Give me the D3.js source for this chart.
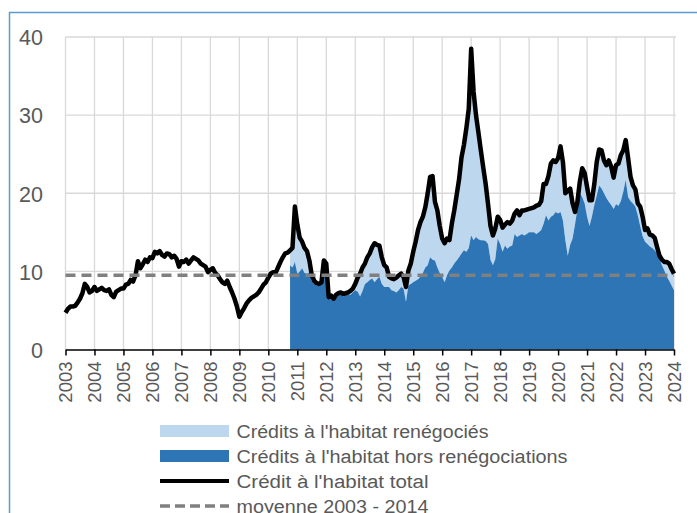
<!DOCTYPE html>
<html>
<head>
<meta charset="utf-8">
<script src="https://cdn.jsdelivr.net/npm/d3@7"></script>
<style>
  body { margin: 0; background: #fff; }
  svg { display: block; font-family: "Liberation Sans", Arial, sans-serif; }
</style>
</head>
<body>
<svg id="chart" width="697" height="513"></svg>
<script>
  // monthly series, Jan 2003 .. Jan 2024 (%)
  const firstYear = 2003;
  const lastYear = 2024;

  const totalCredit = [
    4.7, 5.2, 5.5, 5.5, 5.6, 6.0, 6.5, 7.2, 8.4, 8.0, 7.3, 7.5,        // 2003
    8.0, 7.5, 7.7, 7.9, 7.6, 7.5, 7.7, 7.0, 6.7, 7.4, 7.6, 7.8,        // 2004
    7.8, 8.3, 8.4, 8.9, 8.7, 9.5, 11.3, 10.4, 10.9, 11.5, 11.2, 11.8,  // 2005
    11.7, 12.5, 12.3, 12.6, 12.1, 11.9, 12.3, 12.2, 11.8, 12.0, 11.6, 10.6,
    11.3, 11.2, 11.5, 11.0, 11.4, 11.8, 11.6, 11.4, 11.0, 10.8, 10.6, 9.9,
    10.2, 10.4, 9.8, 9.5, 9.0, 8.6, 8.4, 8.8, 8.0, 7.3, 6.5, 5.5,      // 2008
    4.2, 4.8, 5.3, 5.9, 6.3, 6.6, 6.8, 7.0, 7.3, 7.8, 8.3, 8.6,
    9.2, 9.7, 9.9, 9.8, 10.5, 11.2, 11.8, 12.3, 12.4, 12.7, 13.0, 18.3, // 2010
    16.0, 14.3, 13.8, 13.0, 12.6, 11.4, 9.5, 8.8, 8.5, 8.4, 8.6, 11.4,
    11.0, 6.7, 6.9, 6.5, 7.0, 7.2, 7.3, 7.1, 7.2, 7.3, 7.5, 7.8,
    8.4, 9.2, 9.7, 10.5, 11.0, 11.8, 12.3, 13.1, 13.6, 13.4, 13.3, 11.8,
    10.8, 10.5, 9.3, 9.1, 9.0, 9.2, 9.5, 9.7, 9.3, 8.0, 10.1, 11.0,    // 2014
    12.5, 13.8, 15.3, 16.3, 17.0, 18.2, 20.0, 22.1, 22.2, 18.9, 17.8, 15.8,
    14.2, 13.6, 14.2, 14.0, 16.1, 17.8, 19.8, 21.8, 24.6, 26.2, 28.3, 30.8,
    38.5, 33.0, 30.0, 27.8, 25.5, 23.3, 21.2, 18.6, 15.8, 14.6, 15.5, 17.0, // 2017
    16.6, 15.6, 16.0, 16.3, 16.1, 16.5, 17.4, 17.8, 17.2, 17.8, 17.8, 17.9,
    18.0, 18.1, 18.2, 18.4, 18.5, 19.0, 21.2, 21.2, 22.2, 23.8, 24.2, 24.0,
    24.5, 26.0, 24.0, 20.0, 20.3, 20.6, 18.7, 17.6, 18.9, 21.5, 23.2, 22.6, // 2020
    20.8, 19.1, 19.1, 21.2, 24.0, 25.6, 25.5, 24.2, 23.6, 24.2, 23.4, 22.0,
    23.6, 23.8, 24.9, 25.5, 26.8, 24.5, 22.1, 21.0, 20.5, 18.7, 18.3, 17.0,
    15.3, 15.5, 14.7, 14.6, 14.3, 13.1, 12.0, 11.5, 11.2, 11.2, 11.0, 10.3,
    9.7                                                                 // Jan 2024
  ];

  // split only available from Oct 2010
  const splitStart = 93; // month index of Oct 2010
  const horsReneg = [
    10.8, 10.5, 11.2,                                                   // 2010 Q4
    9.7, 10.0, 10.4, 9.8, 9.7, 9.9, 8.8, 8.5, 8.2, 8.3, 8.4, 11.0,
    10.5, 6.5, 6.6, 6.3, 6.8, 6.9, 7.0, 6.8, 6.9, 7.1, 7.0, 7.3,
    7.6, 7.4, 6.8, 7.5, 8.4, 8.6, 8.9, 9.1, 8.6, 9.0, 9.3, 8.4,
    8.0, 8.0, 8.0, 7.6, 7.5, 7.3, 7.6, 8.0, 7.8, 6.1, 8.2, 8.4,         // 2014
    8.6, 8.8, 9.0, 9.3, 9.8, 10.5, 10.8, 11.8, 11.5, 11.4, 10.5, 9.8,
    9.3, 8.6, 9.5, 10.1, 10.5, 11.0, 11.4, 11.8, 12.3, 12.7, 12.5, 13.0,
    14.6, 14.0, 14.4, 14.1, 14.0, 14.0, 13.9, 13.5, 11.5, 10.8, 11.6, 14.2,
    13.5, 12.5, 13.3, 12.9, 13.2, 13.3, 14.8, 14.4, 14.6, 14.8, 14.6, 14.8,
    15.0, 15.0, 15.0, 14.8, 15.0, 15.3, 16.1, 17.2, 16.5, 17.0, 17.2, 17.6,
    17.4, 17.6, 16.5, 14.0, 12.0, 13.4, 14.2, 16.0, 18.0, 20.0, 19.5, 18.7, // 2020
    17.0, 15.8, 17.0, 18.5, 19.7, 21.0, 20.6, 20.0, 19.4, 18.9, 18.5, 18.0,
    18.6, 18.4, 19.0, 20.2, 21.7, 19.5, 19.0, 18.7, 18.3, 17.2, 15.8, 14.5,
    13.8, 13.5, 13.2, 13.0, 12.7, 12.3, 11.6, 10.8, 10.1, 9.3, 8.8, 8.2,
    7.6
  ];

  const meanValue = 9.5; // moyenne 2003 - 2014
  const yTicks = [0, 10, 20, 30, 40];

  const legendLabels = [
    "Crédits à l'habitat renégociés",
    "Crédits à l'habitat hors renégociations",
    "Crédit à l'habitat total",
    'moyenne 2003 - 2014',
  ];

  const colors = {
    reneg: '#bdd7ee',
    hors: '#2e75b6',
    total: '#000000',
    mean: '#808080',
    grid: '#d9d9d9',
    text: '#595959',
    frame: '#5b9bd5',
  };

  const svg = d3.select('#chart');
  const nMonths = (lastYear - firstYear) * 12;

  const x = d3.scaleLinear().domain([0, nMonths]).range([65.5, 674]);
  const y = d3.scaleLinear().domain([0, 40]).range([349.5, 37]);

  // outer frame (cut by the picture on the right and bottom)
  svg.append('rect')
    .attr('x', 9.5).attr('y', 12.5)
    .attr('width', 800).attr('height', 600)
    .attr('fill', 'none')
    .attr('stroke', colors.frame)
    .attr('stroke-width', 1.5);

  // grid
  const yearIdx = d3.range(0, nMonths + 1, 12);
  const grid = svg.append('g');
  grid.selectAll('.hgrid')
    .data(yTicks.filter((v) => v > 0))
    .enter().append('line')
    .attr('x1', x(0)).attr('x2', x(nMonths) + 2)
    .attr('y1', (d) => y(d)).attr('y2', (d) => y(d))
    .attr('stroke', colors.grid).attr('stroke-width', 1.3);
  grid.selectAll('.vgrid')
    .data(yearIdx)
    .enter().append('line')
    .attr('x1', (d) => x(d)).attr('x2', (d) => x(d))
    .attr('y1', y(40)).attr('y2', y(0))
    .attr('stroke', colors.grid).attr('stroke-width', 1.3);

  // stacked areas
  const split = horsReneg.map((v, k) => ({
    i: splitStart + k,
    hors: v,
    total: totalCredit[splitStart + k],
  }));

  const areaHors = d3.area()
    .x((d) => x(d.i))
    .y0(y(0))
    .y1((d) => y(d.hors));

  const areaReneg = d3.area()
    .x((d) => x(d.i))
    .y0((d) => y(d.hors))
    .y1((d) => y(d.total));

  svg.append('path').datum(split)
    .attr('d', areaReneg)
    .attr('fill', colors.reneg);

  svg.append('path').datum(split)
    .attr('d', areaHors)
    .attr('fill', colors.hors);

  // total line
  const line = d3.line()
    .x((d, i) => x(i))
    .y((d) => y(d));

  svg.append('path').datum(totalCredit)
    .attr('d', line)
    .attr('fill', 'none')
    .attr('stroke', colors.total)
    .attr('stroke-width', 4.5)
    .attr('stroke-linejoin', 'round');

  // mean
  svg.append('line')
    .attr('x1', x(0)).attr('x2', x(nMonths))
    .attr('y1', y(meanValue)).attr('y2', y(meanValue))
    .attr('stroke', colors.mean)
    .attr('stroke-width', 3.5)
    .attr('stroke-dasharray', '10,6');

  // axes
  const xAxis = d3.axisBottom(x)
    .tickValues(yearIdx)
    .tickSize(6)
    .tickSizeOuter(0)
    .tickFormat((d) => firstYear + d / 12);

  const gx = svg.append('g')
    .attr('transform', 'translate(0,' + y(0) + ')')
    .call(xAxis);
  gx.select('.domain').attr('stroke', '#000').attr('stroke-width', 1.5);
  gx.selectAll('.tick line').attr('stroke', '#000').attr('stroke-width', 1.5);
  gx.selectAll('.tick text')
    .attr('transform', 'rotate(-90)')
    .attr('text-anchor', 'end')
    .attr('x', -12)
    .attr('y', 0)
    .attr('dy', '0.35em')
    .attr('fill', colors.text)
    .style('font-size', '18.5px')
    .style('font-family', '"Liberation Sans", Arial, sans-serif');

  const yAxis = d3.axisLeft(y)
    .tickValues(yTicks)
    .tickSize(0)
    .tickPadding(22.5);

  const gy = svg.append('g')
    .attr('transform', 'translate(' + x(0) + ',0)')
    .call(yAxis);
  gy.select('.domain').remove();
  gy.selectAll('.tick text')
    .attr('fill', colors.text)
    .attr('dy', '0.36em')
    .style('font-size', '21.5px')
    .style('font-family', '"Liberation Sans", Arial, sans-serif');

  // legend
  const legendWidths = [252, 331, 192, 192];
  const legend = svg.append('g');
  legendLabels.forEach((label, k) => {
    const cy = 431 + k * 25;
    if (k < 2) {
      legend.append('rect')
        .attr('x', 160).attr('y', cy - 6)
        .attr('width', 69).attr('height', 12)
        .attr('fill', k === 0 ? colors.reneg : colors.hors);
    } else {
      legend.append('line')
        .attr('x1', 160).attr('x2', 229)
        .attr('y1', cy).attr('y2', cy)
        .attr('stroke', k === 2 ? colors.total : colors.mean)
        .attr('stroke-width', k === 2 ? 4 : 3.5)
        .attr('stroke-dasharray', k === 2 ? null : '10,5');
    }
    legend.append('text')
      .attr('x', 236.5)
      .attr('y', cy + 6.5)
      .attr('fill', colors.text)
      .attr('textLength', legendWidths[k])
      .attr('lengthAdjust', 'spacingAndGlyphs')
      .style('font-size', '18px')
      .text(label);
  });
</script>
</body>
</html>
